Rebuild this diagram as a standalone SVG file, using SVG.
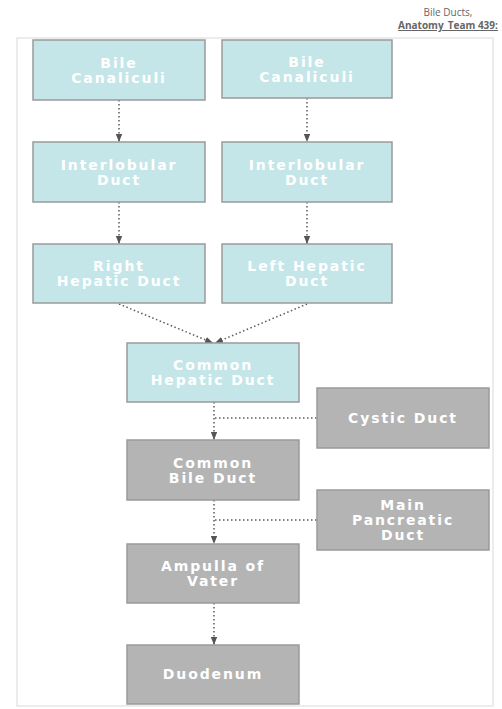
<svg xmlns="http://www.w3.org/2000/svg" width="502" height="709" viewBox="0 0 502 709">
<defs>
<style>
.t{fill:#c4e6e8;stroke:#9a9a9a;stroke-width:1.5}
.g{fill:#b4b4b4;stroke:#9a9a9a;stroke-width:1.5}
.lbl{font-family:"DejaVu Sans",sans-serif;font-weight:bold;font-size:14px;fill:#ffffff;text-anchor:middle;letter-spacing:1.9px}
.c{fill:none;stroke:#5a5a5a;stroke-width:1.5;stroke-dasharray:1.5 2.5}
.hdr{font-family:"Open Sans","Noto Sans",sans-serif;font-size:10px;fill:#666;text-anchor:middle}
</style>
<marker id="ah" viewBox="0 0 10 8" refX="10" refY="4" markerWidth="8" markerHeight="6.4" orient="auto" markerUnits="userSpaceOnUse">
<path d="M0,0 L10,4 L0,8 Z" fill="#555"/>
</marker>
</defs>
<rect width="502" height="709" fill="#fff"/>
<text class="hdr" x="448" y="16">Bile Ducts,</text>
<text class="hdr" x="448" y="29" text-decoration="underline" font-weight="bold" fill="#555">Anatomy_Team 439:</text>
<rect x="17" y="38" width="476" height="668" fill="none" stroke="#ececec" stroke-width="2"/>
<g id="connectors">
<line class="c" x1="119" y1="100" x2="119" y2="142" marker-end="url(#ah)"/>
<line class="c" x1="307" y1="98" x2="307" y2="142" marker-end="url(#ah)"/>
<line class="c" x1="119" y1="202" x2="119" y2="244" marker-end="url(#ah)"/>
<line class="c" x1="307" y1="202" x2="307" y2="244" marker-end="url(#ah)"/>
<line class="c" x1="119" y1="304" x2="213" y2="343" marker-end="url(#ah)"/>
<line class="c" x1="307" y1="304" x2="215" y2="343" marker-end="url(#ah)"/>
<line class="c" x1="214" y1="402" x2="214" y2="440" marker-end="url(#ah)"/>
<line class="c" x1="215" y1="418" x2="317" y2="418"/>
<line class="c" x1="214" y1="500" x2="214" y2="544" marker-end="url(#ah)"/>
<line class="c" x1="215" y1="520" x2="317" y2="520"/>
<line class="c" x1="214" y1="603" x2="214" y2="645" marker-end="url(#ah)"/>
</g>
<g id="bile-canaliculi-1">
<rect class="t" x="33" y="40" width="172" height="60"/>
<text class="lbl" x="119" y="68"><tspan x="119">Bile</tspan><tspan x="119" dy="15">Canaliculi</tspan></text>
</g>
<g id="bile-canaliculi-2">
<rect class="t" x="222" y="40" width="170" height="58"/>
<text class="lbl" x="307" y="67"><tspan x="307">Bile</tspan><tspan x="307" dy="15">Canaliculi</tspan></text>
</g>
<g id="interlobular-1">
<rect class="t" x="33" y="142" width="172" height="60"/>
<text class="lbl" x="119" y="170"><tspan x="119">Interlobular</tspan><tspan x="119" dy="15">Duct</tspan></text>
</g>
<g id="interlobular-2">
<rect class="t" x="222" y="142" width="170" height="60"/>
<text class="lbl" x="307" y="170"><tspan x="307">Interlobular</tspan><tspan x="307" dy="15">Duct</tspan></text>
</g>
<g id="right-hepatic">
<rect class="t" x="33" y="244" width="172" height="59"/>
<text class="lbl" x="119" y="271"><tspan x="119">Right</tspan><tspan x="119" dy="15">Hepatic Duct</tspan></text>
</g>
<g id="left-hepatic">
<rect class="t" x="222" y="244" width="170" height="59"/>
<text class="lbl" x="307" y="271"><tspan x="307">Left Hepatic</tspan><tspan x="307" dy="15">Duct</tspan></text>
</g>
<g id="common-hepatic">
<rect class="t" x="127" y="343" width="172" height="59"/>
<text class="lbl" x="213" y="370"><tspan x="213">Common</tspan><tspan x="213" dy="15">Hepatic Duct</tspan></text>
</g>
<g id="cystic">
<rect class="g" x="317" y="388" width="172" height="60"/>
<text class="lbl" x="403" y="423">Cystic Duct</text>
</g>
<g id="common-bile">
<rect class="g" x="127" y="440" width="172" height="60"/>
<text class="lbl" x="213" y="468"><tspan x="213">Common</tspan><tspan x="213" dy="15">Bile Duct</tspan></text>
</g>
<g id="main-pancreatic">
<rect class="g" x="317" y="490" width="172" height="60"/>
<text class="lbl" x="403" y="510"><tspan x="403">Main</tspan><tspan x="403" dy="15">Pancreatic</tspan><tspan x="403" dy="15">Duct</tspan></text>
</g>
<g id="ampulla">
<rect class="g" x="127" y="544" width="172" height="59"/>
<text class="lbl" x="213" y="571"><tspan x="213">Ampulla of</tspan><tspan x="213" dy="15">Vater</tspan></text>
</g>
<g id="duodenum">
<rect class="g" x="127" y="645" width="172" height="59"/>
<text class="lbl" x="213" y="679">Duodenum</text>
</g>
</svg>
